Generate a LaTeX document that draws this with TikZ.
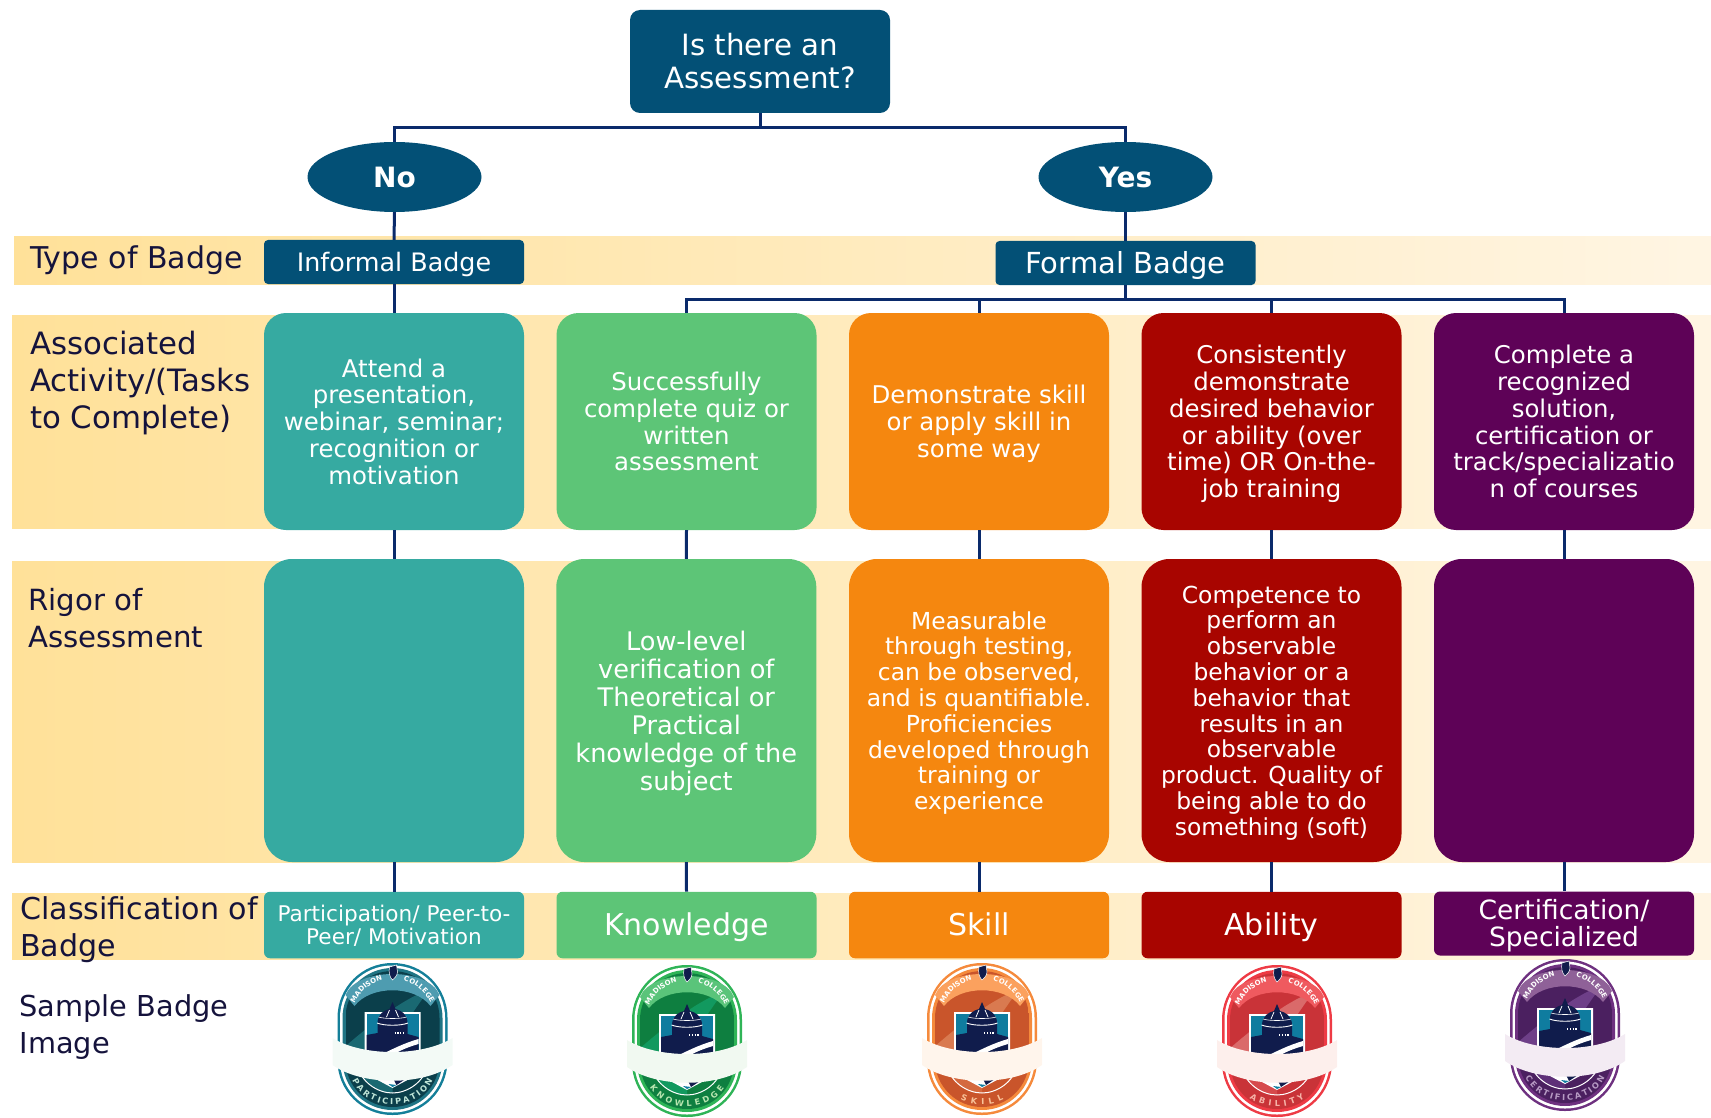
\documentclass[tikz,border=0pt]{standalone}
\usepackage{fontspec}
\setmainfont{DejaVu Sans}
\usetikzlibrary{decorations.text,shapes.geometric}
\definecolor{dkblue}{HTML}{035076}
\definecolor{navy}{HTML}{0A2A6B}
\definecolor{lbl}{HTML}{15133C}
\definecolor{teal1}{HTML}{36AAA1}
\definecolor{green1}{HTML}{5DC577}
\definecolor{orange1}{HTML}{F5870F}
\definecolor{red1}{HTML}{A80500}
\definecolor{purple1}{HTML}{5E0257}
\definecolor{bandL}{HTML}{FFE199}
\definecolor{bandR}{HTML}{FFF5E3}
\definecolor{shieldblue}{HTML}{0F7C9F}
\definecolor{domenavy}{HTML}{101C4C}
\newcommand{\fsz}[2]{\fontsize{#1}{#2}\selectfont}
\tikzset{
  band/.style={left color=bandL,right color=bandR,draw=none},
  conn/.style={draw=navy,line width=3pt},
  box/.style={rectangle,draw=none,text=white,align=center,inner sep=0pt,text depth=0pt},
  activity/.style={box,rounded corners=22pt,minimum width=260pt,minimum height=217pt,font=\fsz{24.4}{26.8}},
  rigor/.style={box,rounded corners=28pt,minimum width=260pt,minimum height=303pt,font=\fsz{23.4}{25.8}},
  rigorbig/.style={rigor,font=\fsz{25.6}{28}},
  classbox/.style={box,rounded corners=6pt,minimum width=260pt,minimum height=66.5pt,font=\fsz{30}{30}},
  rowlabel/.style={anchor=west,align=left,text=lbl,inner sep=0pt,font=\fsz{30.5}{37}},
  decision/.style={ellipse,fill=dkblue,text=white,minimum width=174pt,minimum height=70pt,inner sep=0pt,font=\bfseries\fsz{28}{32}},
}
% colours are given through \setbadge; #1 centre x, #2 top y, #3 label, #4 indent of the label on its arc
\newcommand{\setbadge}[8]{%
  \definecolor{bRing}{HTML}{#1}\definecolor{bInner}{HTML}{#2}\definecolor{bDark}{HTML}{#3}%
  \definecolor{bMid}{HTML}{#4}\definecolor{bBanner}{HTML}{#5}\definecolor{bPaper}{HTML}{#6}%
  \definecolor{bText}{HTML}{#7}\definecolor{bLow}{HTML}{#8}}
\newcommand{\badgeart}[4]{%
\begin{scope}[shift={(#1,#2)}]
  \fill[bRing,rounded corners=54.5pt] (-55,0) rectangle (55,152);
  \fill[white,rounded corners=52pt] (-52.5,2.5) rectangle (52.5,149.5);
  \fill[bInner,rounded corners=50pt] (-50,5) rectangle (50,147);
  \begin{scope}
    \clip[rounded corners=47pt] (-47,8) rectangle (47,144);
    \fill[bDark] (-47,8) rectangle (47,144);
    \fill[bMid] (36,27) .. controls (10,36) and (-20,60) .. (-48,84) -- (-48,112) -- (-20,100) .. controls (0,80) and (20,50) .. (36,27) -- cycle;
  \end{scope}
  % top banner
  \fill[bBanner] (-47,32) .. controls (-36,4) and (36,4) .. (47,32) -- (38,43) .. controls (22,22) and (-22,22) .. (-38,43) -- cycle;
  \path[decorate,decoration={text along path,text color=white,text align=fit to path,
     text={|\fsz{7}{8}\bfseries|MADISON}}]
     (-38.1,40.2) .. controls (-32.9,29) and (-22.9,20.6) .. (-10.9,17.4);
  \path[decorate,decoration={text along path,text color=white,text align=fit to path,
     text={|\fsz{7}{8}\bfseries|COLLEGE}}]
     (10.9,17.4) .. controls (22.9,20.6) and (32.9,29) .. (38.1,40.2);
  \fill[domenavy,draw=white,line width=.5pt] (-3,4) -- (4,2) -- (5,9) .. controls (5,13) and (1,16) .. (0,17) .. controls (-3,14) and (-4,9) .. (-3,4) -- cycle;
  % inner circle below the shield
  \fill[bLow] (-36,100) .. controls (-32,120) and (-14,130) .. (0,130) -- (0,100) -- cycle;
  \draw[white,line width=1pt] (-36,100) .. controls (-32,120) and (-14,130) .. (0,130) .. controls (14,130) and (32,120) .. (36,100);
  % shield
  \fill[white] (-28,49) -- (28,49) -- (28,110) -- (0,125) -- (-28,110) -- cycle;
  \fill[shieldblue] (-26,51) rectangle (26,100);
  \fill[domenavy] (1,116) -- (22,110) -- (4,122) -- cycle;
  \fill[shieldblue] (-4,121) -- (0,124) -- (4,122) -- cycle;
  % capitol
  \fill[domenavy] (-26,105) -- (-26,72) -- (-15,70) -- (-15,60) .. controls (-15,51) and (-8,47) .. (-3,46) -- (0,39) -- (3,46) .. controls (8,47) and (15,51) .. (15,60) -- (15,71) -- (26,74) -- (26,105) -- cycle;
  \draw[white,line width=.9pt] (-15.5,60) .. controls (-8,63) and (8,63) .. (15.5,60);
  \draw[white,line width=.6pt] (-14,54) .. controls (-8,56) and (8,56) .. (14,54);
  \draw[white,line width=.8pt] (-3,47) -- (-6,54) (3,47) -- (6,54);
  \draw[white,line width=1.5pt,dash pattern=on 1.3pt off 1.5pt] (2,70) -- (13,70);
  \fill[white] (-12,92) .. controls (0,86) and (12,80) .. (26,76) -- (26,81) .. controls (12,85) and (2,90) .. (-6,96) -- cycle;
  % bottom label
  \path[decorate,decoration={text along path,text color=bText,
     text align={fit to path,left indent=#4,right indent=#4},
     text={|\fsz{8.2}{9}\bfseries|#3}}]
     (-42,113) .. controls (-30,151) and (30,151) .. (42,113);
  % paper band
  \fill[bPaper] (-60,75) .. controls (-30,93.7) and (30,93.7) .. (60,75) -- (60,102) .. controls (30,123) and (-30,123) .. (-60,102) -- cycle;
\end{scope}}
\begin{document}
\begin{tikzpicture}[x=1pt,y=-1pt]
\useasboundingbox (0,0) rectangle (1711,1118);
% bands
\shade[band] (14,237) rectangle (1711,284);
\shade[band] (12,315) rectangle (1711,528);
\shade[band] (12,561) rectangle (1711,862);
\shade[band] (12,893) rectangle (1711,959);
% row labels
\node[rowlabel,font=\fsz{30}{37}] (lt) at (30,260) {Type of Badge};
\node[rowlabel,font=\fsz{30.8}{37}] (la) at (30,383) {Associated\\Activity/(Tasks\\to Complete)};
\node[rowlabel,font=\fsz{29.2}{37}] (lr) at (28,618) {Rigor of\\Assessment};
\node[rowlabel,font=\fsz{30.1}{37}] (lc) at (20,930) {Classification of\\Badge};
\node[rowlabel,font=\fsz{28.8}{37}] (ls) at (19.5,1027) {Sample Badge\\Image};
% top
\node[box,fill=dkblue,rounded corners=10pt,minimum width=260pt,minimum height=103pt,font=\fsz{29.3}{33}] (q) at (760,61.5) {\raisebox{1pt}{Is there an}\\\raisebox{1pt}{Assessment?}};
\node[decision] (no) at (394.5,177) {No};
\node[decision] (yes) at (1125.5,177) {Yes};
\node[box,fill=dkblue,rounded corners=4pt,minimum width=260pt,minimum height=44pt,font=\fsz{25.4}{28}] (informal) at (394,262) {Informal Badge};
\node[box,fill=dkblue,rounded corners=4pt,minimum width=260pt,minimum height=44pt,font=\fsz{29}{32}] (formal) at (1125.5,263) {\raisebox{2pt}{Formal Badge}};
% activities
\node[activity,fill=teal1] (a1) at (394,421.5) {Attend a\\presentation,\\webinar, seminar;\\recognition or\\motivation};
\node[activity,fill=green1] (a2) at (686.5,421.5) {Successfully\\complete quiz or\\written\\assessment};
\node[activity,fill=orange1] (a3) at (979,421.5) {Demonstrate skill\\or apply skill in\\some way};
\node[activity,fill=red1] (a4) at (1271.5,421.5) {Consistently\\demonstrate\\desired behavior\\or ability (over\\time) OR On-the-\\job training};
\node[activity,fill=purple1] (a5) at (1564,421.5) {Complete a\\recognized\\solution,\\certification or\\track/specializatio\\n of courses};
% rigor
\node[rigor,fill=teal1] (r1) at (394,710.5) {};
\node[rigorbig,fill=green1] (r2) at (686.3,710.5) {Low-level\\verification of\\Theoretical or\\Practical\\knowledge of the\\subject};
\node[rigor,fill=orange1] (r3) at (979,710.5) {Measurable\\through testing,\\can be observed,\\and is quantifiable.\\Proficiencies\\developed through\\training or\\experience};
\node[rigor,fill=red1] (r4) at (1271.5,710.5) {Competence to\\perform an\\observable\\behavior or a\\behavior that\\results in an\\observable\\product. Quality of\\being able to do\\something (soft)};
\node[rigor,fill=purple1] (r5) at (1564,710.5) {};
% classes
\node[classbox,fill=teal1,font=\fsz{21.6}{23}] (c1) at (394,925) {Participation/ Peer-to-\\Peer/ Motivation};
\node[classbox,fill=green1] (c2) at (686.5,925) {\raisebox{2pt}{Knowledge}};
\node[classbox,fill=orange1] (c3) at (979,925) {\raisebox{2pt}{Skill}};
\node[classbox,fill=red1] (c4) at (1271.5,925) {\raisebox{2pt}{Ability}};
\node[classbox,fill=purple1,minimum height=64pt,font=\fsz{26.5}{27}] (c5) at (1564,923.5) {\raisebox{1.5pt}{Certification/}\\\raisebox{1.5pt}{Specialized}};
% connectors
\coordinate (hub) at (760,128);
\coordinate (hubb) at (1125.5,299);
\draw[conn] (q.south) -- (hub);
\draw[conn] (hub) -| (no.north);
\draw[conn] (hub) -| (yes.north);
\draw[conn] (no.south) -- (informal.north);
\draw[conn] (yes.south) -- (formal.north);
\draw[conn] (informal.south) -- (a1.north);
\draw[conn] (formal.south) -- (hubb);
\draw[conn] (hubb) -| (a2.north);
\draw[conn] (hubb) -| (a3.north);
\draw[conn] (hubb) -| (a4.north);
\draw[conn] (hubb) -| (a5.north);
\foreach \i in {1,...,5}{
  \draw[conn] (a\i.south) -- (r\i.north);
  \draw[conn] (r\i.south) -- (c\i.north);
}
% badges
\setbadge{147F99}{1F7484}{0B3F4B}{1A6972}{4E9CB0}{F3FAF6}{BFE5D8}{1A6972}
\badgeart{392.5}{963}{PARTICIPATION}{5pt}
\setbadge{2FB457}{2FB457}{0E7F40}{12995F}{5AC47A}{F1F9F1}{B8E6B0}{12995F}
\badgeart{687}{965}{KNOWLEDGE}{11pt}
\setbadge{F58A3C}{F58A3C}{C9552B}{D97A50}{FBA15E}{FFF5EC}{F9C49A}{D4693F}
\badgeart{982}{963}{SKILL}{32pt}
\setbadge{EE3B45}{EE3B45}{C93338}{DA6A6A}{EF5A5F}{FDEFEC}{F6B3A8}{D6494C}
\badgeart{1277}{965}{ABILITY}{25pt}
\setbadge{6E3180}{6E3180}{4B2060}{6E3F88}{8F6198}{F3EBF3}{B79BC4}{5E3078}
\badgeart{1565}{959}{CERTIFICATION}{6pt}
\end{tikzpicture}
\end{document}
